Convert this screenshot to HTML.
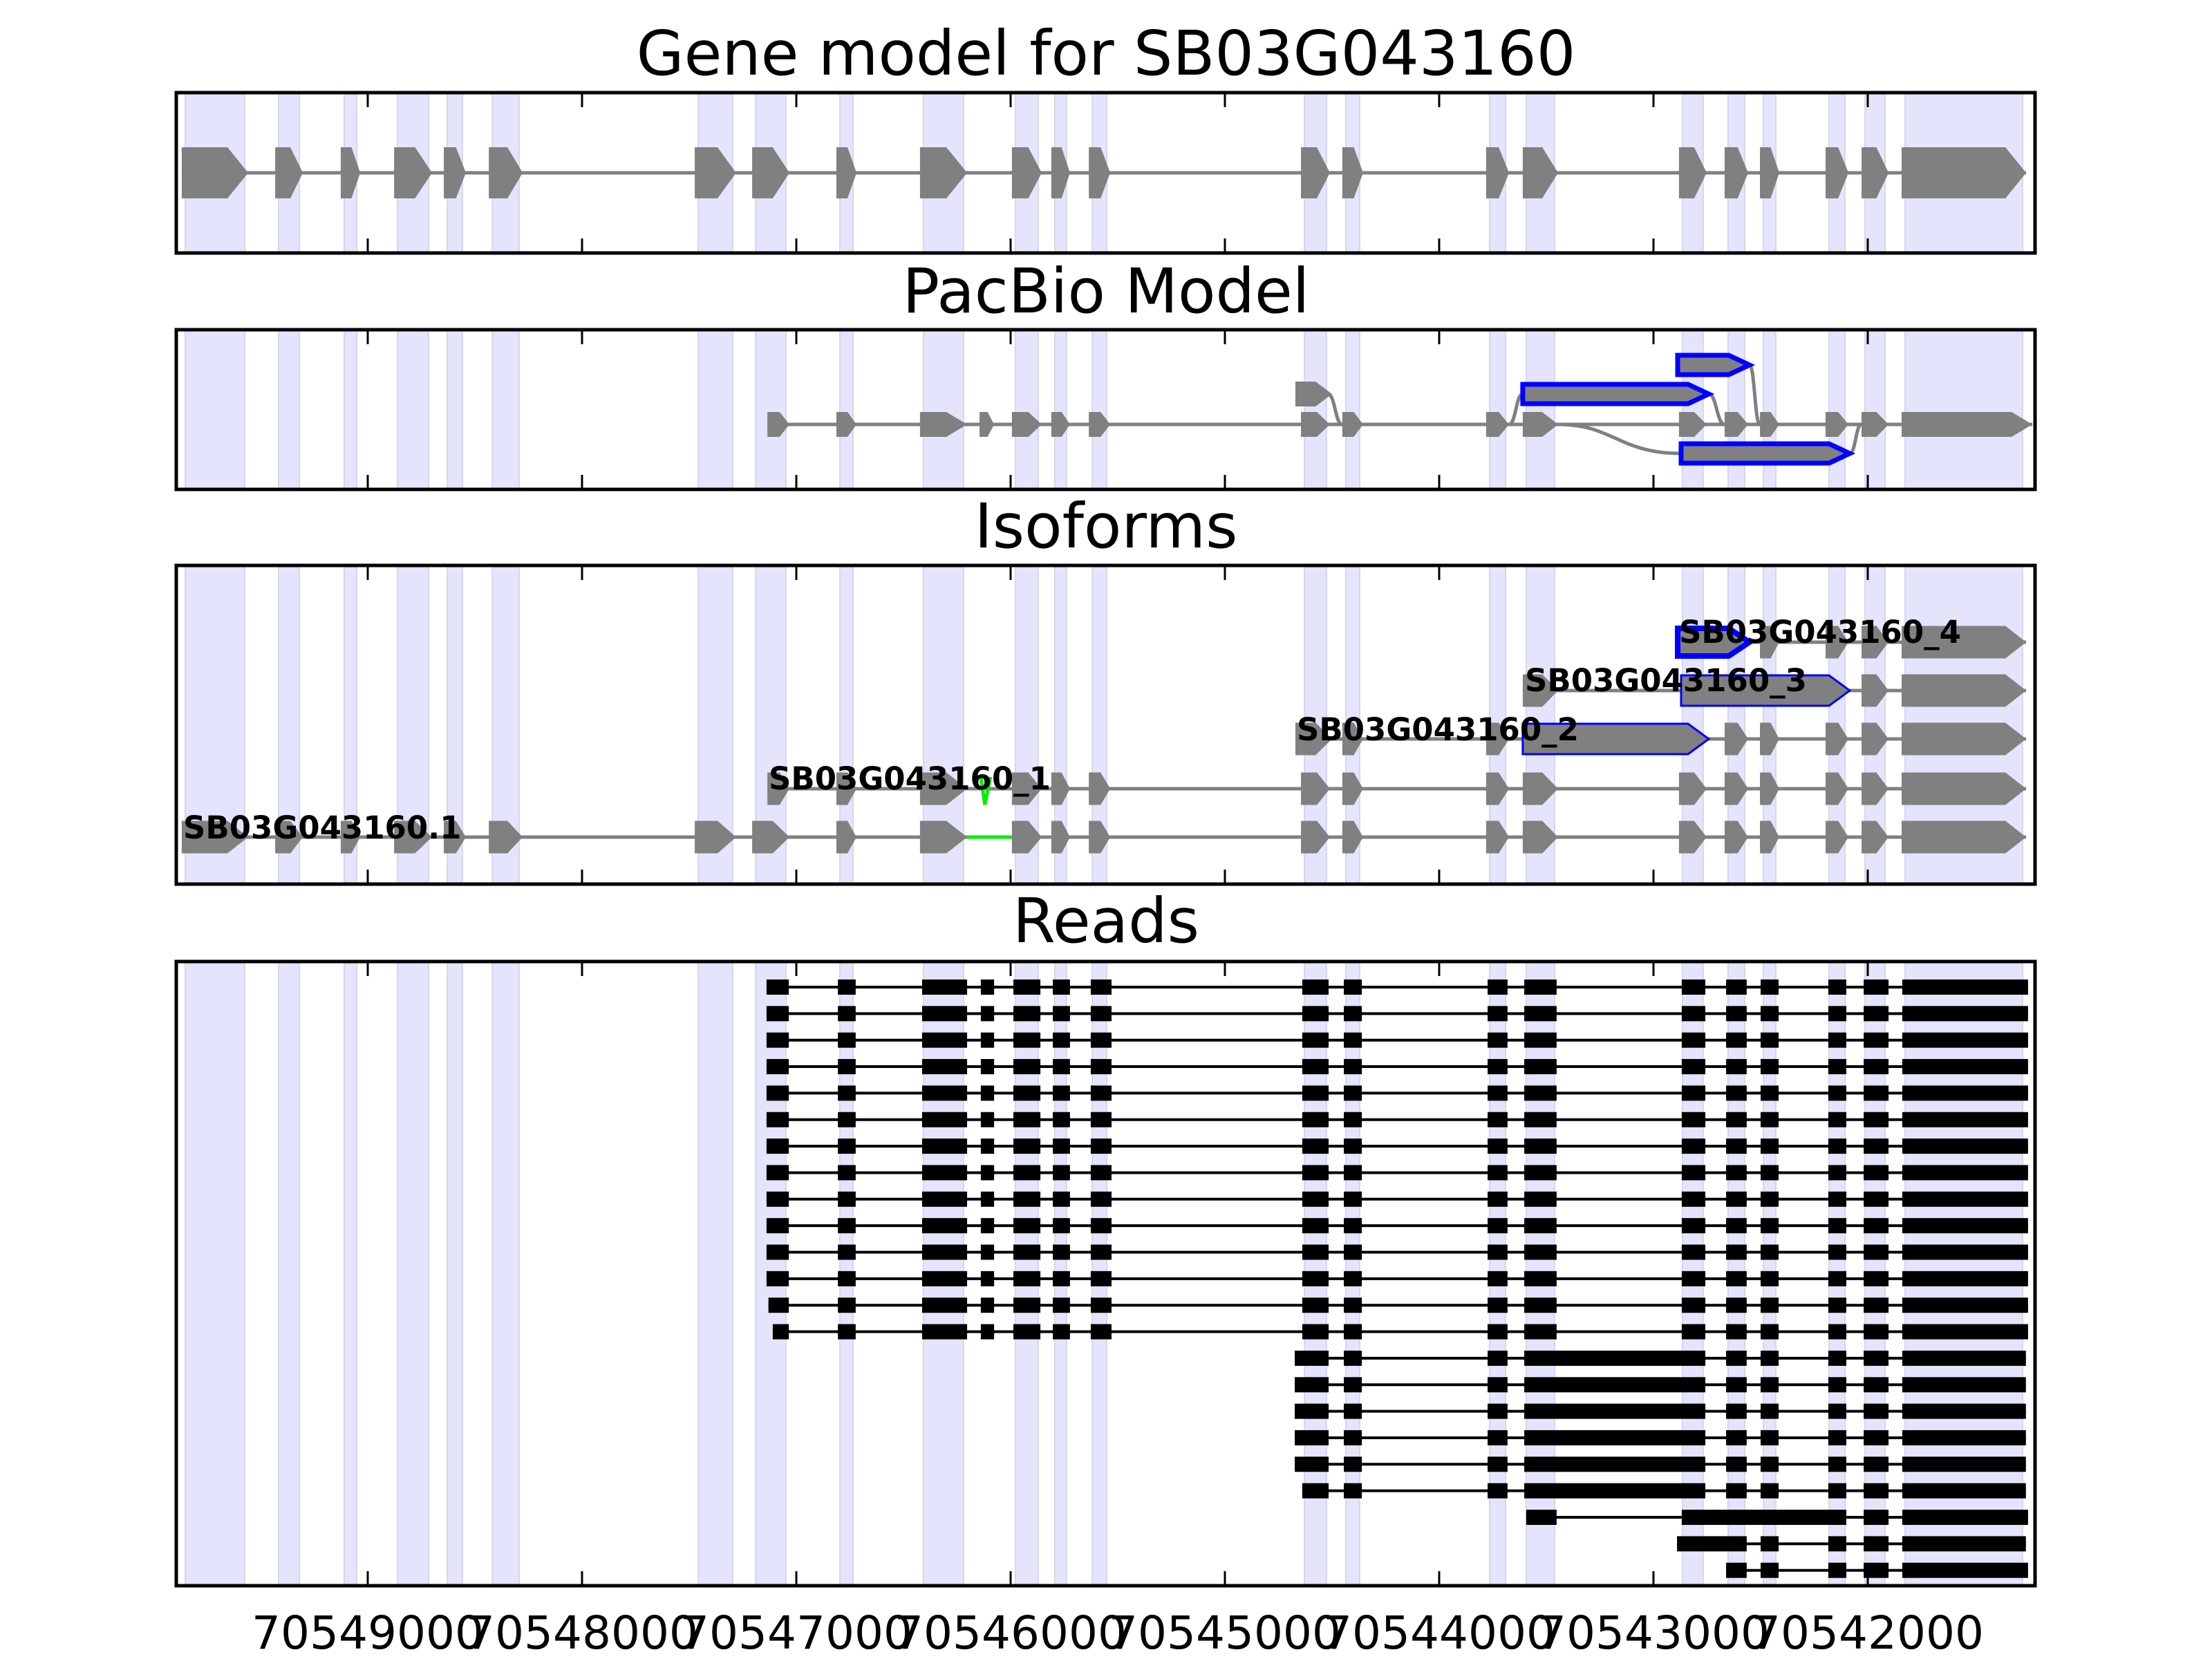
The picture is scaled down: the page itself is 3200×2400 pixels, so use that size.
<!DOCTYPE html>
<html><head><meta charset="utf-8"><style>
html,body{margin:0;padding:0;background:#fff;}
svg{display:block;}
text{font-family:"DejaVu Sans","Liberation Sans",sans-serif;}
</style></head><body>
<svg id="chart" width="3200" height="2400" viewBox="0 0 3200 2400" xmlns="http://www.w3.org/2000/svg"></svg>
<script>
// ---- data (genomic coordinates; pairs are [leftCoord, rightCoord]) ----
const tickValues = [70549000,70548000,70547000,70546000,70545000,70544000,70543000,70542000];
const tickLabels = ["70549000","70548000","70547000","70546000","70545000","70544000","70543000","70542000"];
const panelTitles = ["Gene model for SB03G043160","PacBio Model","Isoforms","Reads"];
const geneExons = [[70549868,70549558],[70549432,70549303],[70549126,70549035],[70548877,70548700],[70548645,70548542],[70548435,70548277],[70547474,70547281],[70547206,70547032],[70546813,70546719],[70546423,70546203],[70545994,70545855],[70545810,70545723],[70545635,70545535],[70544645,70544510],[70544452,70544355],[70543781,70543674],[70543610,70543445],[70542881,70542752],[70542668,70542558],[70542503,70542413],[70542197,70542090],[70542029,70541903],[70541842,70541261]];
const pacbioMain = [[70547135,70547032],[70546813,70546719],[70546423,70546203],[70546145,70546077],[70545994,70545855],[70545810,70545723],[70545635,70545535],[70544645,70544510],[70544452,70544355],[70543781,70543674],[70543610,70543445],[70542881,70542752],[70542668,70542558],[70542503,70542413],[70542197,70542090],[70542029,70541903],[70541842,70541232]];
const pacbioAltGray = [70544671,70544500];
const pacbioBlueMid = [70543610,70542742];
const pacbioBlueTop = [70542887,70542552];
const pacbioBlueLow = [70542871,70542084];
const isoLabels = ["SB03G043160.1","SB03G043160_1","SB03G043160_2","SB03G043160_3","SB03G043160_4"];
const isoRow0 = geneExons;
const isoRow1 = [[70547135,70547032]].concat(geneExons.slice(8));
const isoRow2 = [[70544671,70544500],[70544452,70544355],[70543781,70543674],[70543610,70542742],[70542668,70542558],[70542503,70542413],[70542197,70542090],[70542029,70541903],[70541842,70541261]];
const isoRow2Blue = [3];
const isoRow3 = [[70543610,70543445],[70542871,70542084],[70542029,70541903],[70541842,70541261]];
const isoRow3Blue = [1];
const isoRow4 = [[70542887,70542552],[70542503,70542413],[70542197,70542090],[70542029,70541903],[70541842,70541261]];
const isoRow4Blue = [0];
const isoGreenIntron = [70546203,70545994];
const readTailA = [[70546806,70546723],[70546413,70546203],[70546139,70546077],[70545987,70545861],[70545803,70545723],[70545626,70545529],[70544639,70544516],[70544445,70544361],[70543774,70543681],[70543603,70543452],[70542868,70542758],[70542661,70542565],[70542500,70542416],[70542184,70542100],[70542019,70541903],[70541839,70541252]];
const readTailB = [[70544445,70544361],[70543774,70543681],[70543603,70542758],[70542661,70542565],[70542500,70542416],[70542184,70542100],[70542019,70541903],[70541839,70541262]];
const readStartsA = [70547139,70547139,70547139,70547139,70547139,70547139,70547139,70547139,70547139,70547139,70547139,70547139,70547130,70547110];
const readStartsB = [70544674,70544674,70544674,70544674,70544674,70544639];
const readRowC = [[70543594,70543452],[70542868,70542100],[70542019,70541903],[70541839,70541252]];
const readRowD = [[70542890,70542565],[70542500,70542416],[70542184,70542100],[70542019,70541903],[70541839,70541262]];
const readRowE = [[70542661,70542565],[70542500,70542416],[70542184,70542100],[70542019,70541903],[70541839,70541252]];

// ---- layout ----
const AX_L = 255, AX_R = 2944;
const panels = [{top:134,bottom:366,titleY:108},{top:477,bottom:708,titleY:452},{top:818,bottom:1279,titleY:792},{top:1391,bottom:2294,titleY:1363}];
const X = g => 532 + (70549000 - g) * 0.31;
const NS = "http://www.w3.org/2000/svg";
const svg = document.getElementById('chart');
function el(tag, attrs, parent){ const e=document.createElementNS(NS,tag); for(const k in attrs) e.setAttribute(k,attrs[k]); (parent||svg).appendChild(e); return e; }
function arrowPts(xl,xr,yc,h){ const t=Math.min(30,0.45*(xr-xl)); return `${xl},${yc-h/2} ${xr-t},${yc-h/2} ${xr},${yc} ${xr-t},${yc+h/2} ${xl},${yc+h/2}`; }
function drawArrow(g,ex,yc,h,opts){
  const p = el('polygon',{points:arrowPts(X(ex[0]),X(ex[1]),yc,h),fill:'#808080',stroke:(opts&&opts.stroke)||'none','stroke-width':(opts&&opts.sw)||0,'stroke-linejoin':'miter'},g);
  
  
  return p;
}
function line(g,x1,x2,y,color,w,name){ const l=el('line',{x1:x1,x2:x2,y1:y,y2:y,stroke:color,'stroke-width':w},g);   return l; }

panels.forEach((p,pi)=>{
  const g = el('g',{});
  
  
  p.g = g;
  const t = el('text',{x:1600,y:p.titleY,'text-anchor':'middle','font-size':89,fill:'#000'},g);
  t.textContent = panelTitles[pi];
  
  
  geneExons.forEach(ex=>{
    const b = el('rect',{x:X(ex[0])+5,y:p.top,width:X(ex[1])-X(ex[0])-10,height:p.bottom-p.top,fill:'#e4e4fc',stroke:'#d6d6ec','stroke-width':2},g);
    
    
  });
});

// Panel 1: gene model
(function(){
  const g=panels[0].g, yc=250;
  line(g,X(geneExons[0][0]),X(geneExons[geneExons.length-1][1]),yc,'#808080',5,'intron-line');
  geneExons.forEach(ex=>drawArrow(g,ex,yc,74,{name:'gene-exon'}));
})();

// Panel 2: PacBio
(function(){
  const g=panels[1].g, yc=614, h=36, yU=570, yT=528, yL=656;
  line(g,X(pacbioMain[0][0]),X(pacbioMain[pacbioMain.length-1][1]),yc,'#808080',5,'pacbio-intron-line');
  const curves=[
    [X(pacbioAltGray[1])-6,yU,X(pacbioMain[8][0]),yc],
    [X(pacbioMain[9][1]),yc,X(pacbioBlueMid[0]),yU],
    [X(pacbioBlueMid[1]),yU,X(pacbioMain[12][0]),yc],
    [X(pacbioBlueTop[1]),yT,X(pacbioMain[13][0]),yc],
    [X(pacbioBlueLow[1]),yL,X(pacbioMain[15][0]),yc]
  ];
  curves.forEach(c=>{
    const mx=(c[0]+c[2])/2;
    const pth=el('path',{d:`M${c[0]} ${c[1]} C${mx} ${c[1]}, ${mx} ${c[3]}, ${c[2]} ${c[3]}`,fill:'none',stroke:'#808080','stroke-width':5},g);
    
    
  });
  const s1=X(pacbioMain[10][1]), s2=X(pacbioBlueLow[0]);
  const sp=el('path',{d:`M${s1} ${yc} C${s1+80} ${yc}, ${s2-90} ${yL}, ${s2} ${yL}`,fill:'none',stroke:'#808080','stroke-width':5},g);
  
  
  pacbioMain.forEach(ex=>drawArrow(g,ex,yc,h,{name:'pacbio-exon'}));
  drawArrow(g,pacbioAltGray,yU,h,{name:'pacbio-alt-exon'});
  drawArrow(g,pacbioBlueMid,yU,28,{stroke:'#0000ff',sw:7,name:'pacbio-novel-exon'});
  drawArrow(g,pacbioBlueTop,yT,28,{stroke:'#0000ff',sw:7,name:'pacbio-novel-exon'});
  drawArrow(g,pacbioBlueLow,yL,28,{stroke:'#0000ff',sw:7,name:'pacbio-novel-exon'});
})();

// Panel 3: isoforms
(function(){
  const g=panels[2].g, h=47;
  const rows=[
    {ex:isoRow0,y:1211,blue:[],sw:3,lx:265,ly:1213},
    {ex:isoRow1,y:1141,blue:[],sw:3,lx:1112,ly:1142},
    {ex:isoRow2,y:1069,blue:isoRow2Blue,sw:3,lx:1876,ly:1071},
    {ex:isoRow3,y:999,blue:isoRow3Blue,sw:3,lx:2206,ly:1000},
    {ex:isoRow4,y:929,blue:isoRow4Blue,sw:8,lx:2429,ly:930}
  ];
  rows.forEach((r,ri)=>{
    line(g,X(r.ex[0][0]),X(r.ex[r.ex.length-1][1]),r.y,'#808080',5,'isoform-intron-line');
    if(ri===0) line(g,X(isoGreenIntron[0]),X(isoGreenIntron[1]),r.y,'#00ee00',5,'alt-splice-intron');
    r.ex.forEach((ex,i)=>{
      if(r.blue.indexOf(i)>=0) drawArrow(g,ex,r.y,r.sw>4?40:44,{stroke:'#0000ff',sw:r.sw,name:'isoform-novel-exon'});
      else drawArrow(g,ex,r.y,h,{name:'isoform-exon'});
    });
    if(ri===1){
      const gx=X(70546120);
      const gm=el('path',{d:`M${gx-6} 1124 L${gx} 1164 L${gx+8} 1124`,fill:'none',stroke:'#00ee00','stroke-width':5},g);
      
      
    }
    const t=el('text',{x:r.lx,y:r.ly,'font-size':45,'font-weight':'bold',fill:'#000'},g);
    t.textContent=isoLabels[ri];
    
    
  });
})();

// Panel 4: reads
(function(){
  const g=panels[3].g;
  const reads=[];
  readStartsA.forEach(s=>reads.push([[s,70547035]].concat(readTailA)));
  readStartsB.forEach(s=>reads.push([[s,70544516]].concat(readTailB)));
  reads.push(readRowC, readRowD, readRowE);
  reads.forEach((rd,i)=>{
    const y=1428+i*38.35;
    line(g,X(rd[0][0]),X(rd[rd.length-1][1]),y,'#000',4,'read-intron-line');
    rd.forEach(ex=>{
      const r=el('rect',{x:X(ex[0]),y:y-11,width:X(ex[1])-X(ex[0]),height:22,fill:'#000'},g);
      
      
    });
  });
})();

// frames and ticks
panels.forEach((p,pi)=>{
  const g=p.g;
  tickValues.forEach(v=>{
    const x=X(v);
    const t1=el('line',{x1:x,x2:x,y1:p.top,y2:p.top+21,stroke:'#000','stroke-width':3},g);
    
    
    const t2=el('line',{x1:x,x2:x,y1:p.bottom,y2:p.bottom-21,stroke:'#000','stroke-width':3},g);
    
    
  });
  const f=el('rect',{x:AX_L,y:p.top,width:AX_R-AX_L,height:p.bottom-p.top,fill:'none',stroke:'#000','stroke-width':5},g);
  
  
});
tickValues.forEach((v,i)=>{
  const t=el('text',{x:X(v),y:2385,'text-anchor':'middle','font-size':66,fill:'#000'});
  t.textContent=tickLabels[i];
  
  
});
</script>
</body></html>
